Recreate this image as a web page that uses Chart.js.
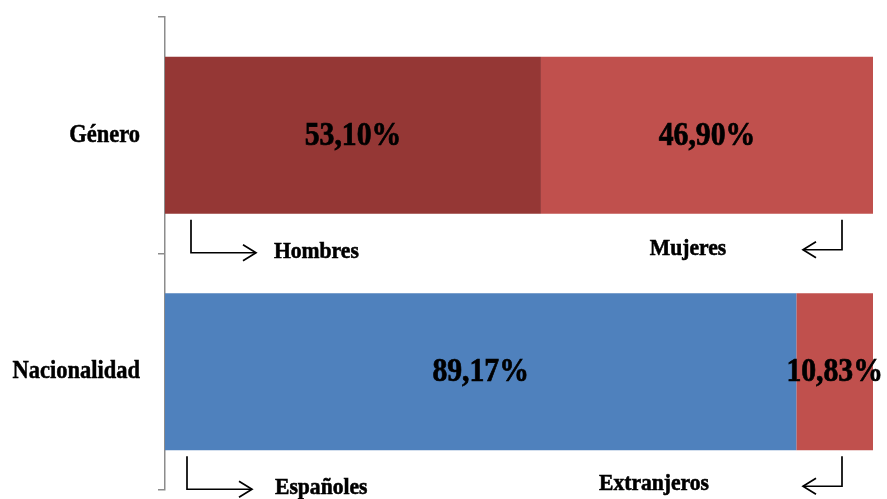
<!DOCTYPE html>
<html>
<head>
<meta charset="utf-8">
<script src="https://cdn.jsdelivr.net/npm/chart.js@4"></script>
<style>
  html, body { margin: 0; padding: 0; background: #fff; }
  #wrap { width: 887px; height: 499px; }
</style>
</head>
<body>
<div id="wrap"><canvas id="chart" width="887" height="499"></canvas></div>
<script>
// DATA
const categories = ["Género", "Nacionalidad"];
const firstGroup = [53.10, 89.17];   // Hombres / Españoles
const secondGroup = [46.90, 10.83];  // Mujeres / Extranjeros
const firstNames = ["Hombres", "Españoles"];
const secondNames = ["Mujeres", "Extranjeros"];

const firstColors = ["#953735", "#4F81BD"];
const secondColors = ["#C0504D", "#C0504D"];

const SERIF = "'Liberation Serif', 'Times New Roman', serif";
const SQUEEZE = 0.9;

function fmt(v) {
  return v.toFixed(2).replace(".", ",") + "%";
}

// condensed bold serif text, with a thin stroke to make it heavier
function drawText(ctx, text, x, y, size, align, heavy) {
  ctx.save();
  ctx.font = `bold ${size}px ${SERIF}`;
  ctx.fillStyle = "#000";
  ctx.strokeStyle = "#000";
  ctx.lineWidth = heavy;
  ctx.textBaseline = "middle";
  const w = ctx.measureText(text).width * SQUEEZE;
  let left = x;
  if (align === "center") left = x - w / 2;
  if (align === "right") left = x - w;
  ctx.translate(left, y);
  ctx.scale(SQUEEZE, 1);
  ctx.textAlign = "left";
  ctx.fillText(text, 0, 0);
  if (heavy) ctx.strokeText(text, 0, 0);
  ctx.restore();
}

// bent arrows under each bar
function drawArrow(ctx, x, yTop, yBot, xEnd) {
  const dir = xEnd > x ? 1 : -1;
  ctx.save();
  ctx.strokeStyle = "#000";
  ctx.lineWidth = 1.7;
  ctx.beginPath();
  ctx.moveTo(x, yTop);
  ctx.lineTo(x, yBot);
  ctx.lineTo(xEnd, yBot);
  ctx.stroke();
  ctx.beginPath();
  ctx.moveTo(xEnd - dir * 13, yBot - 8);
  ctx.lineTo(xEnd, yBot);
  ctx.lineTo(xEnd - dir * 13, yBot + 8);
  ctx.stroke();
  ctx.restore();
}

const labelsPlugin = {
  id: "labels",
  afterDatasetsDraw(chart) {
    const ctx = chart.ctx;
    const area = chart.chartArea;
    const yScale = chart.scales.y;
    const xScale = chart.scales.x;

    categories.forEach((c, i) => {
      drawText(ctx, c, area.left - 25, yScale.getPixelForValue(i), 25, "right", 0.5);
    });

    chart.data.datasets.forEach((ds, di) => {
      chart.getDatasetMeta(di).data.forEach((bar, i) => {
        const cx = (bar.x + bar.base) / 2;
        drawText(ctx, fmt(ds.data[i]), cx, bar.y + 1, 33, "center", 0.7);
      });
    });

    const meta0 = chart.getDatasetMeta(0).data;
    const right = xScale.getPixelForValue(100);
    const left = xScale.getPixelForValue(0);
    const textRight = [688, 654];

    meta0.forEach((bar, i) => {
      const bottom = bar.y + bar.height / 2;
      // left arrow + label
      const ax = left + 26 - i * 4;
      drawArrow(ctx, ax, bottom + 6, bottom + 39, ax + 65);
      drawText(ctx, firstNames[i], ax + 83 + i * 5, bottom + 38, 24, "left", 0.6);
      // right arrow + label
      const bx = right - 31;
      drawArrow(ctx, bx, bottom + 6, bottom + 36, bx - 39);
      drawText(ctx, secondNames[i], textRight[i], bottom + 35 - i, 24, "center", 0.6);
    });
  }
};

new Chart(document.getElementById("chart"), {
  type: "bar",
  data: {
    labels: categories,
    datasets: [
      { label: "A", data: firstGroup, backgroundColor: firstColors, borderWidth: 0,
        barPercentage: 0.664, categoryPercentage: 1 },
      { label: "B", data: secondGroup, backgroundColor: secondColors, borderWidth: 0,
        barPercentage: 0.664, categoryPercentage: 1 }
    ]
  },
  options: {
    indexAxis: "y",
    responsive: false,
    animation: false,
    devicePixelRatio: 1,
    layout: { padding: { left: 158, top: 17, bottom: 9, right: 14 } },
    plugins: { legend: { display: false }, tooltip: { enabled: false } },
    scales: {
      x: { stacked: true, min: 0, max: 100, display: false },
      y: {
        stacked: true,
        offset: true,
        ticks: { display: false },
        grid: { offset: true, drawOnChartArea: false, tickLength: 7, color: "#8C8C8C", lineWidth: 1.5 },
        border: { color: "#8C8C8C", width: 1.5 }
      }
    }
  },
  plugins: [labelsPlugin]
});
</script>
</body>
</html>
